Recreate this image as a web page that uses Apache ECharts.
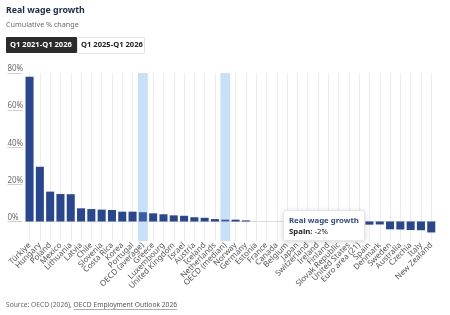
<!DOCTYPE html>
<html><head><meta charset="utf-8">
<script src="https://cdn.jsdelivr.net/npm/echarts@6/dist/echarts.min.js"></script>
<style>html,body{margin:0;padding:0;background:#fff}#c{width:450px;height:315px}</style>
</head><body><div id="c"></div>
<script>
const categories = ["Türkiye","Hungary","Poland","Mexico","Lithuania","Latvia","Chile","Slovenia","Costa Rica","Korea","Portugal","OECD (average)","Greece","Luxembourg","United Kingdom","Israel","Austria","Iceland","Netherlands","OECD (median)","Norway","Germany","Estonia","France","Canada","Belgium","Japan","Switzerland","Ireland","Finland","Slovak Republic","United States","Euro area (21)","Spain","Denmark","Sweden","Australia","Czechia","Italy","New Zealand"];
const values = [78, 29.5, 16.1, 14.8, 14.7, 7.1, 6.7, 6.4, 6.2, 5.3, 5.3, 5.0, 4.4, 3.9, 3.3, 3.1, 2.3, 2.0, 1.3, 1.0, 1.0, 0.6, 0, 0, 0, 0, 0, 0, 0, 0, 0, 0, 0, -1.7, -1.6, -4.2, -4.3, -4.6, -4.7, -5.9];
const highlighted = ["OECD (average)", "OECD (median)"];
const yTicks = [0, 20, 40, 60, 80];
const tipIndex = categories.indexOf("Spain");

const FONT = '"Noto Sans", "Open Sans", sans-serif';
const yMin = -10.5, yMax = 80;

const mc = document.createElement('canvas').getContext('2d');
mc.font = '6.7px "Noto Sans"';
const srcPrefix = 'Source: OECD (2026), ';
const srcLink = 'OECD Employment Outlook 2026';
const prefW = mc.measureText(srcPrefix).width;
const linkW = mc.measureText(srcLink).width;

const chart = echarts.init(document.getElementById('c'), null, {renderer: 'canvas'});
const barData = values.map((v, i) => ({
  value: v,
  itemStyle: {color: highlighted.includes(categories[i]) ? '#3a5ea6' : '#28478e'}
}));
chart.setOption({
  animation: false,
  textStyle: {fontFamily: FONT},
  title: [
    {text: 'Real wage growth', left: 6, top: 6, padding: 0, textStyle: {fontSize: 8.8, fontWeight: 'bold', color: '#1d2a48', fontFamily: FONT}},
    {text: 'Cumulative % change', left: 6, top: 21, padding: 0, textStyle: {fontSize: 7.2, fontWeight: 'normal', color: '#6b6b6b', fontFamily: FONT}}
  ],
  graphic: [
    {type: 'rect', left: 6, top: 37, shape: {width: 71, height: 16, r: 1}, style: {fill: '#2b2b2b'}},
    {type: 'text', left: 10, top: 41, style: {text: 'Q1 2021-Q1 2026', fill: '#fff', font: 'bold 7.6px ' + FONT}},
    {type: 'rect', left: 77, top: 37, shape: {width: 67, height: 16, r: 1}, style: {fill: '#fff', stroke: '#e2e2e2', lineWidth: 1}},
    {type: 'text', left: 81, top: 41, style: {text: 'Q1 2025-Q1 2026', fill: '#222', font: 'bold 7.6px ' + FONT}},
    {type: 'text', left: 6, top: 302, style: {text: srcPrefix, fill: '#666', font: '6.7px ' + FONT}},
    {type: 'text', left: 6 + prefW, top: 302, style: {text: srcLink, fill: '#555', font: '6.7px ' + FONT}},
    {type: 'line', shape: {x1: 6 + prefW, y1: 309.5, x2: 6 + prefW + linkW, y2: 309.5}, style: {stroke: '#777', lineWidth: 0.6}}
  ],
  grid: {left: 24.4, right: 13.6, top: 73, bottom: 74, containLabel: false},
  tooltip: {
    trigger: 'item', alwaysShowContent: true, transitionDuration: 0, showDelay: 0,
    position: [283, 210],
    backgroundColor: '#fff', borderColor: '#e6e6e6', borderWidth: 1, padding: [4, 5],
    extraCssText: 'box-shadow:0 1px 5px rgba(0,0,0,0.18);border-radius:3px;',
    formatter: p => '<div style="font-family:Noto Sans,sans-serif;font-size:7.8px;line-height:10.5px">' +
      '<div style="font-weight:bold;color:#2b4a8b">Real wage growth</div>' +
      '<div style="color:#222"><b>' + p.name + ':</b> ' + Math.round(p.value) + '%</div></div>'
  },
  xAxis: {
    type: 'category', data: categories, position: 'bottom',
    axisLine: {show: false}, axisTick: {show: false},
    axisLabel: {interval: 0, rotate: 45, fontSize: 8, color: '#555', margin: 3, fontFamily: FONT},
    splitLine: {show: true, alignWithLabel: true, interval: 0, lineStyle: {color: '#ececec', width: 1}}
  },
  yAxis: {
    type: 'value', min: yMin, max: yMax, offset: 2,
    axisLine: {show: false},
    axisTick: {show: true, customValues: yTicks, length: 15, lineStyle: {color: '#cfcfcf'}},
    axisLabel: {customValues: yTicks, align: 'left', verticalAlign: 'bottom', margin: 15, fontSize: 8, color: '#6b6b6b',
      padding: [0, 0, 0, 0], formatter: v => v + '%', fontFamily: FONT},
    splitLine: {show: false}
  },
  series: [
    {
      type: 'custom', z: 1, silent: true,
      data: highlighted.map(n => [categories.indexOf(n)]),
      renderItem: (params, api) => {
        const idx = api.value(0);
        const top = api.coord([idx, yMax]);
        const bot = api.coord([idx, yMin]);
        const w = api.size([1, 0])[0] * 0.96;
        return {type: 'rect', shape: {x: top[0] - w / 2, y: top[1], width: w, height: bot[1] - top[1]}, style: {fill: '#c8e1f8'}};
      }
    },
    {
      type: 'bar', name: 'Real wage growth', z: 3, data: barData, barWidth: '78%',
      markLine: {silent: true, symbol: 'none', label: {show: false}, lineStyle: {color: '#dcdcdc', width: 1.2, type: 'solid'}, z: 2, data: [{yAxis: 0}]}
    }
  ]
});
chart.dispatchAction({type: 'showTip', seriesIndex: 1, dataIndex: tipIndex});
</script></body></html>
